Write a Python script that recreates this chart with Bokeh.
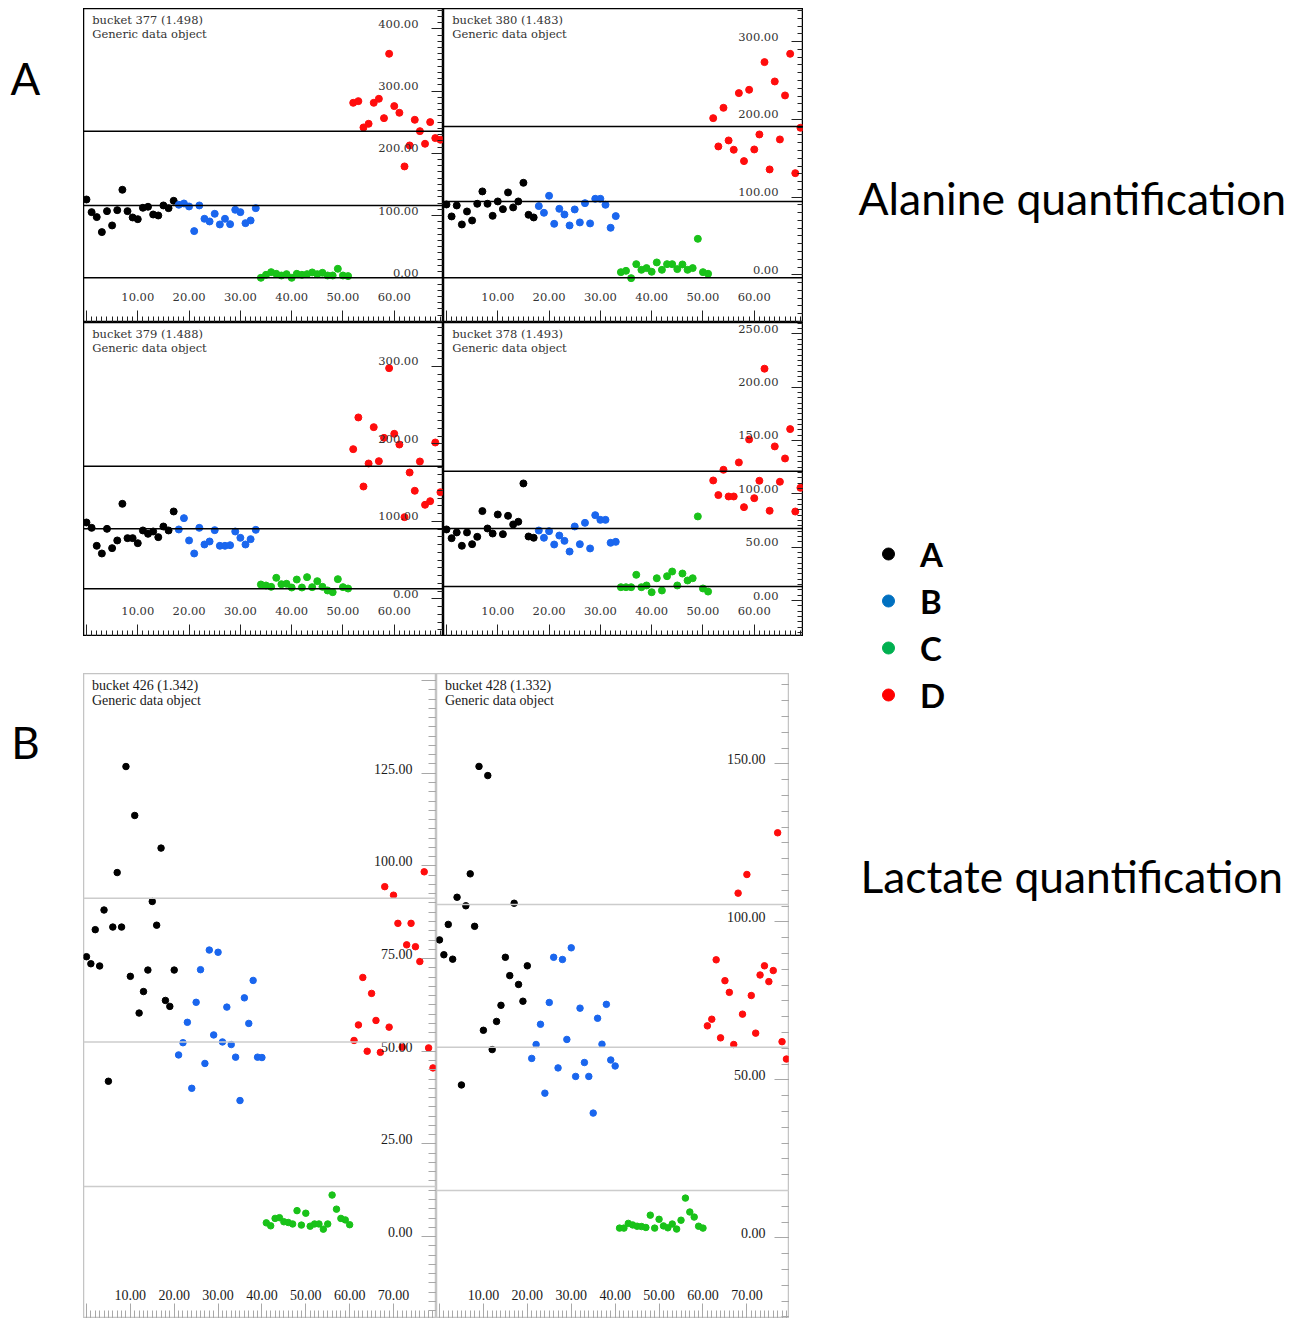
from bokeh.plotting import figure
from bokeh.layouts import row, column
from bokeh.models import (Range1d, SingleIntervalTicker, Span, Legend, LegendItem,
                          Label, Spacer, CustomLabelingPolicy)
from bokeh.embed import file_html
from bokeh.resources import INLINE
from bokeh.core.properties import value

# ---------------- data ----------------
group_names = ["A", "B", "C", "D"]
point_colors = ["#000000", "#1a66ee", "#19c219", "#ff0d0d"]
legend_colors = ["#000000", "#0070c0", "#00b050", "#ff0000"]

alanine_x_ticks = [10, 20, 30, 40, 50, 60]
lactate_x_ticks = [10, 20, 30, 40, 50, 60, 70]

# bucket 377 (1.498)
b377_A = [125.8, 105.5, 97.5, 73.4, 107.1, 84.1, 108.7, 141.4, 107.1, 96.9, 94.2, 112.5, 114.1, 101.7, 100.1, 116.2, 111.9, 123.7]
b377_B = [117.3, 119.4, 114.6, 75.0, 116.2, 94.8, 90.5, 102.8, 85.7, 94.8, 86.2, 109.2, 105.5, 87.8, 92.1, 111.9]
b377_C = [0.0, 4.8, 9.1, 6.4, 3.7, 5.9, 0.0, 6.4, 4.8, 5.9, 8.6, 5.9, 8.0, 3.7, 3.7, 14.5, 3.7, 2.7]
b377_D = [281.1, 283.8, 241.5, 247.4, 281.1, 287.6, 256.5, 359.9, 275.8, 265.1, 178.9, 212.6, 253.8, 235.6, 215.3, 250.1, 224.4, 221.7]
b377_yticks = [0, 100, 200, 300, 400]
b377_lines = [0, 116, 235.5]

# bucket 380 (1.483)
b380_A = [90.5, 75.1, 89.2, 64.8, 81.5, 69.9, 91.4, 107.3, 91.4, 75.9, 94.4, 84.5, 106.0, 86.7, 94.4, 118.4, 77.2, 73.8]
b380_B = [88.4, 79.8, 101.7, 65.6, 84.9, 77.6, 63.5, 84.1, 67.4, 92.2, 66.1, 97.8, 97.8, 90.1, 60.5, 75.5]
b380_C = [3.4, 5.1, -4.3, 13.7, 6.4, 8.6, 3.9, 15.9, 6.4, 13.7, 13.7, 7.3, 13.3, 6.4, 8.6, 46.3, 3.4, 1.3]
b380_D = [201.6, 165.2, 214.9, 172.9, 160.9, 233.8, 146.3, 238.1, 161.3, 180.6, 273.7, 135.6, 248.8, 174.2, 230.8, 284.4, 130.8, 189.2]
b380_yticks = [0, 100, 200, 300]
b380_lines = [-3.9, 94.3, 191]

# bucket 379 (1.488)
b379_A = [98.5, 91.6, 68.4, 58.5, 90.3, 65.4, 75.3, 122.6, 78.3, 78.3, 71.8, 88.2, 83.9, 86.9, 79.6, 93.3, 88.2, 112.7]
b379_B = [89.5, 104.1, 75.3, 58.5, 91.6, 70.1, 74.0, 88.6, 68.4, 68.4, 69.2, 86.9, 78.7, 70.1, 77.0, 89.0]
b379_C = [18.5, 17.2, 15.5, 27.1, 18.9, 19.4, 14.6, 24.9, 14.6, 28.0, 15.1, 22.8, 15.5, 10.8, 8.6, 25.4, 15.1, 13.3]
b379_D = [193.1, 234.0, 144.9, 174.6, 221.5, 177.6, 207.7, 297.6, 212.9, 199.1, 105.4, 163.0, 139.4, 177.2, 121.3, 126.0, 201.7, 137.6]
b379_yticks = [0, 100, 200, 300]
b379_lines = [13, 90.3, 171]

# bucket 378 (1.493)
b378_A = [66.6, 58.4, 63.8, 51.3, 63.8, 52.8, 59.7, 83.8, 67.5, 62.8, 80.6, 62.2, 79.4, 71.3, 73.8, 109.7, 60.0, 58.8]
b378_B = [65.6, 58.8, 65.0, 52.5, 60.9, 55.9, 45.9, 69.4, 52.8, 72.8, 48.8, 80.0, 75.6, 75.6, 54.1, 55.0]
b378_C = [12.5, 12.5, 12.5, 24.1, 12.5, 14.1, 7.8, 20.9, 9.4, 22.8, 27.2, 14.1, 25.3, 18.8, 20.9, 78.8, 11.3, 8.4]
b378_D = [112.5, 98.8, 122.5, 97.5, 97.5, 129.4, 87.5, 150.9, 95.9, 112.2, 217.2, 84.1, 144.4, 111.3, 133.1, 160.6, 83.4, 105.6]
b378_yticks = [0, 50, 100, 150, 200, 250]
b378_lines = [13.1, 67.5, 121.2]

# bucket 426 (1.342)
b426_A = [75.5, 73.6, 82.8, 73.0, 88.1, 41.9, 83.5, 98.2, 83.5, 126.8, 70.2, 113.6, 60.3, 66.1, 71.9, 90.4, 84.0, 104.8, 63.7, 62.1, 71.9]
b426_B = [49.0, 52.3, 57.8, 40.0, 63.2, 72.0, 46.7, 77.3, 54.4, 76.7, 52.5, 61.9, 51.8, 48.4, 36.7, 64.4, 57.5, 69.1, 48.4, 48.3]
b426_C = [3.7, 2.9, 4.9, 5.1, 4.0, 3.8, 3.4, 7.0, 3.1, 6.3, 2.8, 3.4, 3.4, 2.0, 3.4, 11.2, 7.4, 4.9, 4.5, 3.2]
b426_D = [52.9, 57.1, 69.9, 50.0, 65.6, 58.3, 49.7, 94.4, 56.5, 92.1, 84.5, 51.1, 78.7, 84.5, 78.2, 74.2, 98.4, 50.9, 45.5]
b426_yticks = [0, 25, 50, 75, 100, 125]
b426_lines = [13.5, 52.5, 91.3]

# bucket 428 (1.332)
b428_A = [94.3, 89.6, 99.2, 88.2, 107.8, 48.4, 105.1, 115.2, 98.6, 149.2, 65.7, 146.3, 59.6, 68.5, 73.6, 88.8, 83.0, 105.9, 80.2, 74.9, 86.1]
b428_B = [56.8, 61.2, 67.6, 45.8, 74.5, 88.8, 53.8, 88.1, 62.8, 91.8, 51.1, 72.7, 55.5, 51.1, 39.5, 69.5, 61.3, 73.9, 56.3, 54.4]
b428_C = [3.1, 3.1, 4.6, 4.1, 3.7, 3.6, 3.3, 7.2, 3.1, 5.9, 3.8, 3.2, 4.4, 2.8, 5.6, 12.6, 8.2, 6.6, 3.7, 3.1]
b428_D = [67.1, 69.2, 88.0, 63.3, 81.4, 77.7, 61.2, 109.1, 70.8, 115.0, 76.7, 64.8, 83.2, 86.1, 81.1, 84.6, 128.2, 62.1, 56.6]
b428_yticks = [0, 50, 100, 150]
b428_lines = [15.0, 60.3, 105.5]

# ---------------- styling ----------------
style_A = dict(font="DejaVu Serif", fsize="11.5px", tcolor="#333333", frame="#000000",
               frame_w=1.5, tick="#222222", line="#000000", line_w=1.5, dot=7,
               maj=12, mnr=6, tx=8.7, ty1=11, ty2=25.3, ylab_dx=25, ylab_up=5.0, xlab_dy=26)
style_B = dict(font="Liberation Serif", fsize="14px", tcolor="#1a1a1a", frame="#c4c4c4",
               frame_w=1.5, tick="#a8a8a8", line="#cccccc", line_w=1.5, dot=6.5,
               maj=15, mnr=8, tx=8.5, ty1=12, ty2=27, ylab_dx=24, ylab_up=4.5, xlab_dy=24)


def make_panel(title, groups, yticks, xticks, hlines, xr, yr, w, h, st):
    p = figure(width=w, height=h, x_range=Range1d(*xr), y_range=Range1d(*yr),
               x_axis_location="below", y_axis_location="right",
               toolbar_location=None, output_backend="svg", min_border=0)
    p.xgrid.visible = False
    p.ygrid.visible = False
    p.outline_line_color = st["frame"]
    p.outline_line_width = st["frame_w"]
    p.outline_line_alpha = 1.0
    p.background_fill_color = "white"
    p.border_fill_color = "white"
    p.xaxis.ticker = SingleIntervalTicker(interval=10, num_minor_ticks=10)
    p.yaxis.ticker = SingleIntervalTicker(interval=yticks[1] - yticks[0], num_minor_ticks=10)
    for ax in (p.xaxis[0], p.yaxis[0]):
        # the axes serve as tick rulers only; their values are written inside the frame
        ax.major_label_policy = CustomLabelingPolicy(code="return []")
        ax.major_label_text_font_size = "0px"
        ax.major_label_standoff = 0
        ax.major_tick_out = 0
        ax.minor_tick_out = 0
        ax.major_tick_in = st["maj"]
        ax.minor_tick_in = st["mnr"]
        ax.axis_line_color = st["frame"]
        ax.axis_line_width = st["frame_w"]
        ax.major_tick_line_color = st["tick"]
        ax.minor_tick_line_color = st["tick"]
    ux = (xr[1] - xr[0]) / w
    uy = (yr[1] - yr[0]) / h
    for v in hlines:
        p.add_layout(Span(location=v, dimension="width", line_color=st["line"],
                          line_width=st["line_w"]))
    start = 0
    for vals, c in zip(groups, point_colors):
        xs = list(range(start, start + len(vals)))
        start += len(vals)
        p.scatter(xs, vals, size=st["dot"], fill_color=c, line_color=c)
    font = value(st["font"])
    p.text(x=[xr[0] + st["tx"] * ux] * 2,
           y=[yr[1] - st["ty1"] * uy, yr[1] - st["ty2"] * uy],
           text=[title, "Generic data object"], text_font=font,
           text_font_size=st["fsize"], text_color=st["tcolor"],
           text_align="left", text_baseline="middle")
    p.text(x=[xr[1] - st["ylab_dx"] * ux] * len(yticks),
           y=[t + st["ylab_up"] * uy for t in yticks],
           text=["%.2f" % t for t in yticks], text_font=font,
           text_font_size=st["fsize"], text_color=st["tcolor"],
           text_align="right", text_baseline="middle")
    p.text(x=xticks, y=[yr[0] + st["xlab_dy"] * uy] * len(xticks),
           text=["%.2f" % t for t in xticks], text_font=font,
           text_font_size=st["fsize"], text_color=st["tcolor"],
           text_align="center", text_baseline="middle")
    return p


ala_xr = (-0.58, 69.6)
p377 = make_panel("bucket 377 (1.498)", [b377_A, b377_B, b377_C, b377_D], b377_yticks,
                  alanine_x_ticks, b377_lines, ala_xr, (-71.8, 432.6), 360, 314, style_A)
p380 = make_panel("bucket 380 (1.483)", [b380_A, b380_B, b380_C, b380_D], b380_yticks,
                  alanine_x_ticks, b380_lines, ala_xr, (-61.4, 342.7), 360, 314, style_A)
p379 = make_panel("bucket 379 (1.488)", [b379_A, b379_B, b379_C, b379_D], b379_yticks,
                  alanine_x_ticks, b379_lines, ala_xr, (-48.6, 356.5), 360, 314, style_A)
p378 = make_panel("bucket 378 (1.493)", [b378_A, b378_B, b378_C, b378_D], b378_yticks,
                  alanine_x_ticks, b378_lines, ala_xr, (-33.7, 260.5), 360, 314, style_A)

B_H = 645
p426 = make_panel("bucket 426 (1.342)", [b426_A, b426_B, b426_C, b426_D], b426_yticks,
                  lactate_x_ticks, b426_lines, (-0.68, 79.8), (-22.1, 151.9), 353, B_H, style_B)
p428 = make_panel("bucket 428 (1.332)", [b428_A, b428_B, b428_C, b428_D], b428_yticks,
                  lactate_x_ticks, b428_lines, (-0.68, 79.7), (-25.5, 178.6), 353, B_H, style_B)

# ---------------- side figures ----------------
TOP = 8
H = TOP + 628 + 37 + B_H   # 1318

left = figure(width=83, height=H, x_axis_type=None, y_axis_type=None,
              toolbar_location=None, output_backend="svg", min_border=0)
left.outline_line_color = None
left.grid.visible = False
left.add_layout(Label(x=25, y=H - 77, x_units="screen", y_units="screen", text="A",
                      text_font="Lato", text_font_size="44px", text_color="#000000",
                      text_align="center", text_baseline="middle"))
left.add_layout(Label(x=25, y=H - 741, x_units="screen", y_units="screen", text="B",
                      text_font="Lato", text_font_size="44px", text_color="#000000",
                      text_align="center", text_baseline="middle"))

right = figure(width=491, height=H, x_axis_type=None, y_axis_type=None,
               x_range=Range1d(0, 1), y_range=Range1d(0, 1),
               toolbar_location=None, output_backend="svg", min_border=0)
right.outline_line_color = None
right.grid.visible = False
items = []
for i, (name, c) in enumerate(zip(group_names, legend_colors)):
    # hidden renderer that only supplies the legend swatch
    r = right.scatter(x=[i], y=[-10], size=12, fill_color=c, line_color=c, visible=False)
    items.append(LegendItem(label=name, renderers=[r]))
legend = Legend(items=items, location=(70, H - 718), orientation="vertical",
                glyph_width=30, glyph_height=47, label_height=47, spacing=0,
                padding=0, margin=0, label_standoff=17, click_policy="none",
                label_text_font="Lato", label_text_font_style="bold",
                label_text_font_size="33px", label_text_color="#000000",
                border_line_color=None, background_fill_alpha=0)
right.add_layout(legend)
right.add_layout(Label(x=55, y=H - 197, x_units="screen", y_units="screen",
                       text="Alanine quantification", text_font="Lato",
                       text_font_size="44.5px", text_color="#000000",
                       text_align="left", text_baseline="middle"))
right.add_layout(Label(x=57, y=H - 875, x_units="screen", y_units="screen",
                       text="Lactate quantification", text_font="Lato",
                       text_font_size="44.3px", text_color="#000000",
                       text_align="left", text_baseline="middle"))

grid_A = column(row(p377, p380), row(p379, p378))
row_B = row(p426, p428, Spacer(width=14, height=B_H))
middle = column(Spacer(width=720, height=TOP), grid_A, Spacer(width=720, height=37), row_B)
layout = row(left, middle, right)

open("out.html", "w").write(file_html(layout, INLINE, title="Alanine and lactate quantification"))
